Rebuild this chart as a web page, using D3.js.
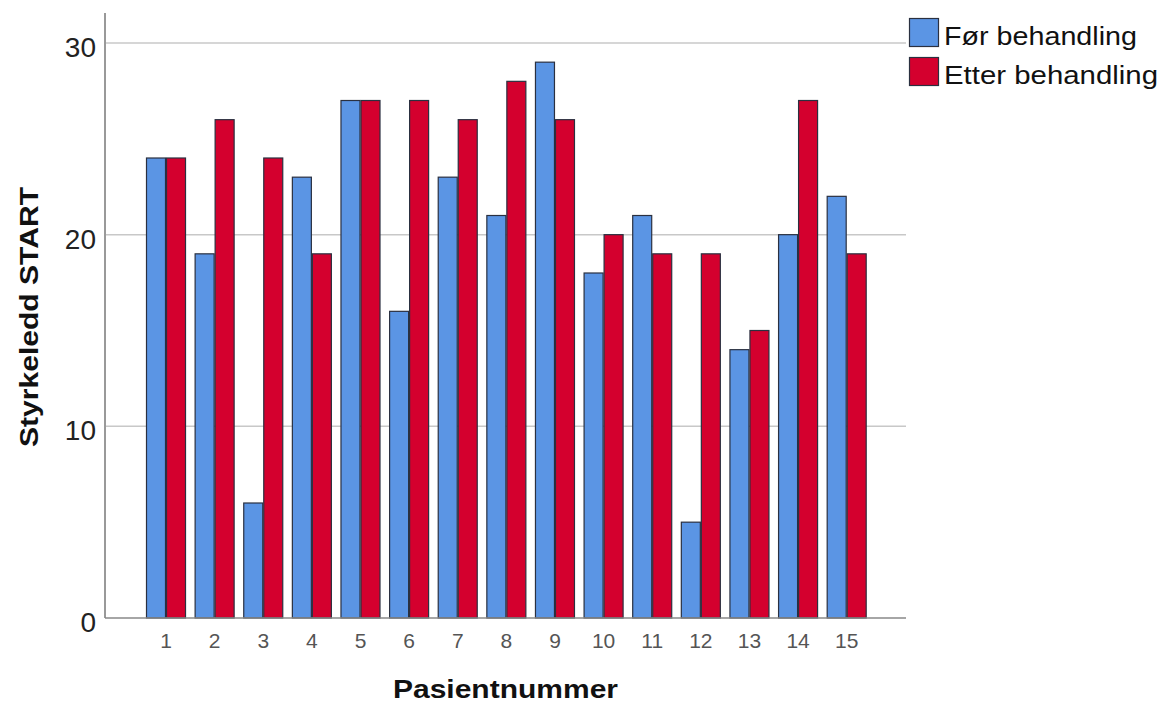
<!DOCTYPE html>
<html><head><meta charset="utf-8">
<script src="https://cdn.jsdelivr.net/npm/d3@7"></script>
<style>body{margin:0;background:#fff;font-family:"Liberation Sans",Arial,sans-serif}</style>
</head><body><svg id="c" width="1168" height="706"></svg>
<script>
const categories = ["1","2","3","4","5","6","7","8","9","10","11","12","13","14","15"];
const seriesNames = ["Før behandling","Etter behandling"];
const forValues = [24,19,6,23,27,16,23,21,29,18,21,5,14,20,22];
const etterValues = [24,26,24,19,27,27,26,28,26,20,19,19,15,27,19];
const yTicks = [0,10,20,30];
const colors = ["#5b95e4","#d4002e"];

const svg = d3.select("#c");
const pLeft = 105, pRight = 906, pBottom = 618, pTop = 13;
const y = d3.scaleLinear().domain([0,30]).range([618,43]);
const x = d3.scaleBand().domain(categories).range([146,866.7]).paddingInner(0.177).paddingOuter(0);
const xs = d3.scaleBand().domain(seriesNames).range([0,x.bandwidth()]);

// gridlines
svg.append("g").selectAll("line").data(yTicks.filter(d=>d>0)).join("line")
  .attr("x1",pLeft).attr("x2",pRight).attr("y1",d=>y(d)).attr("y2",d=>y(d))
  .attr("stroke","#c8c8c8").attr("stroke-width",1.5);

// bars
const data = categories.map((c,i)=>({c, vals:[forValues[i],etterValues[i]]}));
const g = svg.append("g").selectAll("g").data(data).join("g")
  .attr("transform",d=>`translate(${x(d.c)},0)`);
g.selectAll("rect").data(d=>d.vals.map((v,j)=>({v,j}))).join("rect")
  .attr("x",d=>xs(seriesNames[d.j])+0.5).attr("width",xs.bandwidth()-1)
  .attr("y",d=>y(d.v)).attr("height",d=>y(0)-y(d.v))
  .attr("fill",d=>colors[d.j]).attr("stroke","#2a3040").attr("stroke-width",1.2);

// axes lines
svg.append("line").attr("x1",pLeft).attr("x2",pLeft).attr("y1",pTop).attr("y2",pBottom)
  .attr("stroke","#999").attr("stroke-width",2);
svg.append("line").attr("x1",pLeft).attr("x2",pRight).attr("y1",pBottom).attr("y2",pBottom)
  .attr("stroke","#888").attr("stroke-width",1.5);

// y tick labels
svg.append("g").selectAll("text").data(yTicks).join("text")
  .attr("x",96).attr("y",d=>y(d)+14).attr("text-anchor","end")
  .attr("font-size",28).attr("fill","#222").text(d=>d);

// x tick labels
svg.append("g").selectAll("text").data(categories).join("text")
  .attr("x",d=>x(d)+x.bandwidth()/2).attr("y",pBottom+30).attr("text-anchor","middle")
  .attr("font-size",21).attr("fill","#555").text(d=>d);

// axis titles
svg.append("text").attr("x",(pLeft+pRight)/2).attr("y",698).attr("text-anchor","middle")
  .attr("font-size",26).attr("font-weight","bold").attr("fill","#111")
  .attr("textLength",225).attr("lengthAdjust","spacingAndGlyphs").text("Pasientnummer");
svg.append("text").attr("transform","translate(38,317) rotate(-90)").attr("text-anchor","middle")
  .attr("font-size",26).attr("font-weight","bold").attr("fill","#111")
  .attr("textLength",260).attr("lengthAdjust","spacingAndGlyphs").text("Styrkeledd START");

// legend
const lens = [193,214];
const lg = svg.append("g").selectAll("g").data(seriesNames).join("g")
  .attr("transform",(d,i)=>`translate(909,${18+i*39})`);
lg.append("rect").attr("x",0.5).attr("y",0.5).attr("width",29).attr("height",28)
  .attr("fill",(d,i)=>colors[i]).attr("stroke","#2a3040").attr("stroke-width",1.2);
lg.append("text").attr("x",35).attr("y",27).attr("font-size",25).attr("fill","#111")
  .attr("textLength",(d,i)=>lens[i]).attr("lengthAdjust","spacingAndGlyphs").text(d=>d);
</script></body></html>
